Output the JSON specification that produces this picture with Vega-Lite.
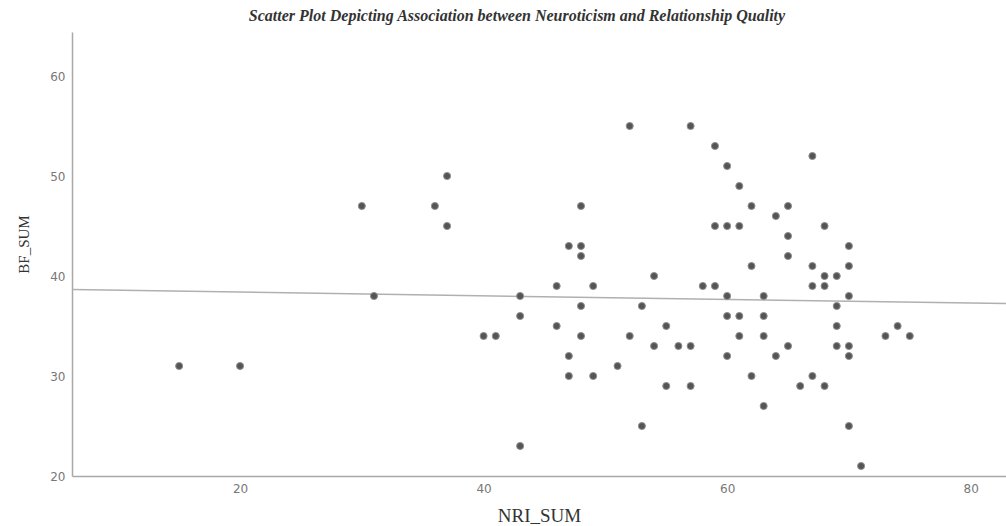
{
  "$schema": "https://vega.github.io/schema/vega-lite/v6.json",
  "width": 934,
  "height": 444,
  "autosize": {"type": "none"},
  "padding": {"left": 72, "top": 32, "right": 0, "bottom": 50},
  "background": "white",
  "title": {
    "text": "Scatter Plot Depicting Association between Neuroticism and Relationship Quality",
    "font": "Liberation Serif",
    "fontSize": 16,
    "fontStyle": "italic",
    "fontWeight": "bold",
    "color": "#333333",
    "offset": 8,
    "dx": -22,
    "anchor": "middle"
  },
  "config": {
    "view": {"stroke": null},
    "axis": {
      "grid": false,
      "ticks": false,
      "domainColor": "#a8a8a8",
      "domainWidth": 1.5,
      "labelFont": "DejaVu Sans",
      "labelFontSize": 12,
      "labelColor": "#777777",
      "titleFont": "Liberation Serif",
      "titleFontWeight": "normal",
      "titleColor": "#333333"
    }
  },
  "datasets": {
    "points": [
      {"NRI_SUM": 15, "BF_SUM": 31}, {"NRI_SUM": 20, "BF_SUM": 31}, {"NRI_SUM": 30, "BF_SUM": 47},
      {"NRI_SUM": 31, "BF_SUM": 38}, {"NRI_SUM": 36, "BF_SUM": 47}, {"NRI_SUM": 37, "BF_SUM": 50},
      {"NRI_SUM": 37, "BF_SUM": 45}, {"NRI_SUM": 40, "BF_SUM": 34}, {"NRI_SUM": 41, "BF_SUM": 34},
      {"NRI_SUM": 43, "BF_SUM": 23}, {"NRI_SUM": 43, "BF_SUM": 38}, {"NRI_SUM": 43, "BF_SUM": 36},
      {"NRI_SUM": 52, "BF_SUM": 55}, {"NRI_SUM": 57, "BF_SUM": 55}, {"NRI_SUM": 59, "BF_SUM": 53},
      {"NRI_SUM": 60, "BF_SUM": 51}, {"NRI_SUM": 61, "BF_SUM": 49}, {"NRI_SUM": 62, "BF_SUM": 47},
      {"NRI_SUM": 48, "BF_SUM": 47}, {"NRI_SUM": 59, "BF_SUM": 45}, {"NRI_SUM": 60, "BF_SUM": 45},
      {"NRI_SUM": 61, "BF_SUM": 45}, {"NRI_SUM": 47, "BF_SUM": 43}, {"NRI_SUM": 48, "BF_SUM": 43},
      {"NRI_SUM": 48, "BF_SUM": 42}, {"NRI_SUM": 54, "BF_SUM": 40}, {"NRI_SUM": 46, "BF_SUM": 39},
      {"NRI_SUM": 49, "BF_SUM": 39}, {"NRI_SUM": 58, "BF_SUM": 39}, {"NRI_SUM": 59, "BF_SUM": 39},
      {"NRI_SUM": 60, "BF_SUM": 38}, {"NRI_SUM": 62, "BF_SUM": 41}, {"NRI_SUM": 48, "BF_SUM": 37},
      {"NRI_SUM": 53, "BF_SUM": 37}, {"NRI_SUM": 60, "BF_SUM": 36}, {"NRI_SUM": 61, "BF_SUM": 36},
      {"NRI_SUM": 46, "BF_SUM": 35}, {"NRI_SUM": 55, "BF_SUM": 35}, {"NRI_SUM": 48, "BF_SUM": 34},
      {"NRI_SUM": 52, "BF_SUM": 34}, {"NRI_SUM": 61, "BF_SUM": 34}, {"NRI_SUM": 47, "BF_SUM": 32},
      {"NRI_SUM": 54, "BF_SUM": 33}, {"NRI_SUM": 56, "BF_SUM": 33}, {"NRI_SUM": 57, "BF_SUM": 33},
      {"NRI_SUM": 60, "BF_SUM": 32}, {"NRI_SUM": 51, "BF_SUM": 31}, {"NRI_SUM": 47, "BF_SUM": 30},
      {"NRI_SUM": 49, "BF_SUM": 30}, {"NRI_SUM": 62, "BF_SUM": 30}, {"NRI_SUM": 55, "BF_SUM": 29},
      {"NRI_SUM": 57, "BF_SUM": 29}, {"NRI_SUM": 53, "BF_SUM": 25}, {"NRI_SUM": 67, "BF_SUM": 52},
      {"NRI_SUM": 65, "BF_SUM": 47}, {"NRI_SUM": 64, "BF_SUM": 46}, {"NRI_SUM": 68, "BF_SUM": 45},
      {"NRI_SUM": 65, "BF_SUM": 44}, {"NRI_SUM": 70, "BF_SUM": 43}, {"NRI_SUM": 65, "BF_SUM": 42},
      {"NRI_SUM": 67, "BF_SUM": 41}, {"NRI_SUM": 70, "BF_SUM": 41}, {"NRI_SUM": 68, "BF_SUM": 40},
      {"NRI_SUM": 69, "BF_SUM": 40}, {"NRI_SUM": 67, "BF_SUM": 39}, {"NRI_SUM": 68, "BF_SUM": 39},
      {"NRI_SUM": 63, "BF_SUM": 38}, {"NRI_SUM": 70, "BF_SUM": 38}, {"NRI_SUM": 69, "BF_SUM": 37},
      {"NRI_SUM": 63, "BF_SUM": 36}, {"NRI_SUM": 69, "BF_SUM": 35}, {"NRI_SUM": 74, "BF_SUM": 35},
      {"NRI_SUM": 63, "BF_SUM": 34}, {"NRI_SUM": 73, "BF_SUM": 34}, {"NRI_SUM": 75, "BF_SUM": 34},
      {"NRI_SUM": 65, "BF_SUM": 33}, {"NRI_SUM": 69, "BF_SUM": 33}, {"NRI_SUM": 70, "BF_SUM": 33},
      {"NRI_SUM": 64, "BF_SUM": 32}, {"NRI_SUM": 70, "BF_SUM": 32}, {"NRI_SUM": 67, "BF_SUM": 30},
      {"NRI_SUM": 66, "BF_SUM": 29}, {"NRI_SUM": 68, "BF_SUM": 29}, {"NRI_SUM": 63, "BF_SUM": 27},
      {"NRI_SUM": 70, "BF_SUM": 25}, {"NRI_SUM": 71, "BF_SUM": 21}
    ],
    "fit": [
      {"NRI_SUM": 6.2, "BF_SUM": 38.64},
      {"NRI_SUM": 82.9, "BF_SUM": 37.24}
    ]
  },
  "layer": [
    {
      "data": {"name": "fit"},
      "mark": {"type": "line", "color": "#b0b0b0", "strokeWidth": 1.5, "clip": true},
      "encoding": {
        "x": {"field": "NRI_SUM", "type": "quantitative"},
        "y": {"field": "BF_SUM", "type": "quantitative"}
      }
    },
    {
      "data": {"name": "points"},
      "mark": {"type": "circle", "size": 50, "color": "#555555", "opacity": 1, "stroke": "#909090", "strokeWidth": 1},
      "encoding": {
        "x": {
          "field": "NRI_SUM",
          "type": "quantitative",
          "scale": {"domain": [6.2, 82.9], "nice": false, "zero": false},
          "axis": {"values": [20, 40, 60, 80], "labelPadding": 7, "title": "NRI_SUM", "titleFontSize": 19, "titlePadding": 12}
        },
        "y": {
          "field": "BF_SUM",
          "type": "quantitative",
          "scale": {"domain": [20, 64.4], "nice": false, "zero": false},
          "axis": {"values": [20, 30, 40, 50, 60], "labelPadding": 7, "labelFontSize": 12, "title": "BF_SUM", "titleFontSize": 15, "titlePadding": 18, "titleY": 212}
        }
      }
    }
  ]
}
